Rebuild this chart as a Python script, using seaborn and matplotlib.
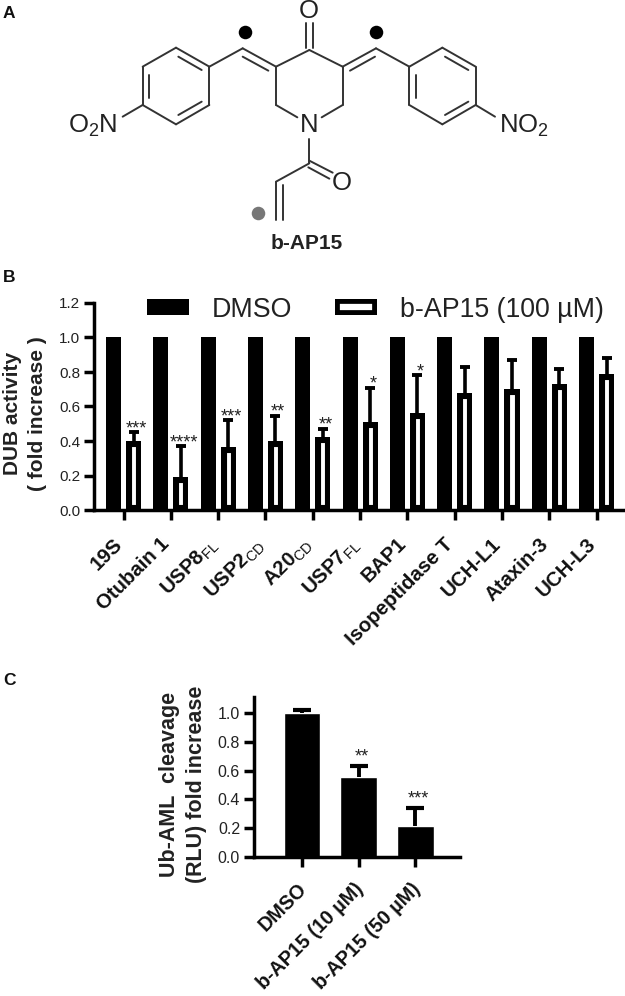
import matplotlib
matplotlib.use("Agg")
import matplotlib.pyplot as plt
from matplotlib.transforms import ScaledTranslation
import pandas as pd
import seaborn as sns

W, H = 625, 996

# panel B
targets = ["19S", "Otubain 1", "USP8$_{\\mathrm{FL}}$", "USP2$_{\\mathrm{CD}}$", "A20$_{\\mathrm{CD}}$",
           "USP7$_{\\mathrm{FL}}$", "BAP1", "Isopeptidase T", "UCH-L1", "Ataxin-3", "UCH-L3"]
dmso_activity = [1.0] * 11
bap15_activity = [0.40, 0.19, 0.365, 0.40, 0.425, 0.51, 0.56, 0.68, 0.70, 0.73, 0.79]
bap15_err_top = [0.45, 0.37, 0.52, 0.545, 0.47, 0.71, 0.78, 0.83, 0.87, 0.82, 0.88]
bap15_stars = ["***", "****", "***", "**", "**", "*", "*", "", "", "", ""]

# panel C
treatments = ["DMSO", "b-AP15 (10 µM)", "b-AP15 (50 µM)"]
cleavage = [1.0, 0.555, 0.215]
cleavage_err_top = [1.023, 0.628, 0.337]
cleavage_stars = ["", "**", "***"]

sns.set_theme(style="ticks")
plt.rcParams["font.family"] = ["Liberation Sans", "DejaVu Sans"]
plt.rcParams["mathtext.fontset"] = "custom"
plt.rcParams["mathtext.rm"] = "Liberation Sans"
plt.rcParams["mathtext.default"] = "regular"

fig = plt.figure(figsize=(W / 100, H / 100), dpi=100)


def px_axes(left, right, top, bottom):
    return fig.add_axes([left / W, 1 - bottom / H, (right - left) / W, (bottom - top) / H])


def style_axis(ax, size):
    sns.despine(ax=ax)
    for side in ("left", "bottom"):
        ax.spines[side].set_linewidth(2.5)
        ax.spines[side].set_color("black")
    ax.tick_params(axis="both", width=2.5, length=7, color="black")
    ax.tick_params(axis="y", labelsize=size, labelcolor="#222222", pad=3)
    ax.set_xlabel("")


def slant_labels(ax, size, pad, shift_px):
    ax.tick_params(axis="x", labelsize=size, pad=pad, labelcolor="#111111")
    offset = ScaledTranslation(shift_px / 100, 0, fig.dpi_scale_trans)
    for label in ax.get_xticklabels():
        label.set(rotation=45, ha="right", rotation_mode="anchor", fontweight="bold")
        label.set_transform(label.get_transform() + offset)


def inner_stroke(patch, width):
    # stroke stays inside the bar outline, as in the original
    patch.set(edgecolor="black", linewidth=width)
    patch.set_clip_path(patch)


def upper_errors(ax, xs, values, tops, **kws):
    bars = ax.errorbar(xs, values, yerr=[[0] * len(values), [t - v for t, v in zip(tops, values)]],
                       fmt="none", ecolor="black", **kws)
    bars.lines[1][0].remove()  # only the upper cap is drawn


# A: structure, drawn in the units of a 3x crop of the top 260 px
ax_a = px_axes(0, W, 0, 260)
ax_a.set_xlim(-150, 1725)
ax_a.set_ylim(780, 0)
ax_a.axis("off")
bonds = [
    # left ring
    (378, 143, 478, 200), (478, 200, 478, 315), (478, 315, 378, 373), (378, 373, 278, 315),
    (278, 315, 278, 200), (278, 200, 378, 143), (385, 170, 455, 210), (298, 225, 298, 295),
    (385, 345, 455, 305),
    # left linker
    (478, 200, 578, 145), (578, 145, 678, 200), (578, 170, 655, 212),
    # piperidone
    (678, 200, 778, 150), (778, 150, 878, 200), (878, 200, 878, 315), (878, 315, 815, 352),
    (678, 200, 678, 315), (678, 315, 742, 352), (768, 70, 768, 145), (788, 70, 788, 145),
    # right linker
    (878, 200, 978, 145), (900, 212, 975, 170), (978, 145, 1078, 200),
    # right ring
    (1078, 200, 1177, 143), (1177, 143, 1277, 200), (1277, 200, 1277, 315), (1277, 315, 1177, 373),
    (1177, 373, 1078, 315), (1078, 315, 1078, 200), (1098, 225, 1098, 295), (1185, 170, 1255, 210),
    (1185, 345, 1255, 305),
    # acryloyl
    (778, 418, 778, 490), (778, 482, 848, 518), (775, 502, 838, 536), (778, 490, 678, 545),
    (678, 545, 678, 660), (698, 555, 698, 660),
    # nitro
    (278, 315, 218, 350), (1277, 315, 1335, 350),
]
for x0, y0, x1, y1 in bonds:
    ax_a.plot([x0, x1], [y0, y1], color="#333333", lw=1.4, solid_capstyle="round")
atoms = [(775, 34, "O"), (778, 375, "N"), (875, 548, "O"), (128, 378, "O$_{\\mathrm{2}}$N"), (1423, 378, "NO$_{\\mathrm{2}}$")]
for x, y, label in atoms:
    ax_a.text(x, y, label, ha="center", va="center", fontsize=18.5, color="#222222")
ax_a.scatter([585, 977], [95, 95], s=95, color="black", linewidths=0)
ax_a.scatter([625], [640], s=95, color="#777777", linewidths=0)
ax_a.text(770, 730, "b-AP15", ha="center", va="center", fontsize=15, fontweight="bold", color="#222222")

# B
df_b = pd.DataFrame({"target": targets * 2,
                     "activity": dmso_activity + bap15_activity,
                     "group": ["DMSO"] * 11 + ["b-AP15 (100 µM)"] * 11})
ax_b = px_axes(94, 625, 303, 510)
sns.barplot(df_b, x="target", y="activity", hue="group", ax=ax_b, width=0.846, gap=0.25,
            palette={"DMSO": "black", "b-AP15 (100 µM)": "white"},
            linewidth=0, saturation=1, errorbar=None)
for patch in ax_b.containers[1]:
    inner_stroke(patch, 8)
ax_b.set_xlim(-0.624, 10.6)
ax_b.set_ylim(0, 1.2)
ax_b.set_yticks([0, 0.2, 0.4, 0.6, 0.8, 1.0, 1.2])
style_axis(ax_b, 11)
white_x = [p.get_x() + p.get_width() / 2 for p in ax_b.containers[1]]
upper_errors(ax_b, white_x, bap15_activity, bap15_err_top, elinewidth=2.6, capsize=3.5, capthick=2.8)
for x, top, stars in zip(white_x, bap15_err_top, bap15_stars):
    ax_b.annotate(stars, (x, top), xytext=(2, -3.5), textcoords="offset points", ha="center",
                  va="bottom", fontsize=13, color="#222222")
slant_labels(ax_b, 14.7, 10.5, -11)
ax_b.set_ylabel("DUB activity\n( fold increase )", fontsize=15, fontweight="bold", linespacing=1.4, color="#222222")
ax_b.yaxis.set_label_coords(-0.0885, 0.466)
handles, labels = ax_b.get_legend_handles_labels()
legend = ax_b.legend(handles, labels, ncol=2, frameon=False, fontsize=19.3, loc="upper left",
                     bbox_to_anchor=(0.1, 1.03), handlelength=1.56, handleheight=0.52,
                     columnspacing=1.6, handletextpad=0.86, borderpad=0, borderaxespad=0,
                     labelcolor="#222222")
inner_stroke(legend.get_patches()[1], 7)

# C
ax_c = px_axes(254, 460, 697, 857)
sns.barplot(x=treatments, y=cleavage, ax=ax_c, color="black", saturation=1, width=0.65, errorbar=None)
ax_c.set_xlim(-0.847, 2.787)
ax_c.set_ylim(0, 1.11)
ax_c.set_yticks([0, 0.2, 0.4, 0.6, 0.8, 1.0])
style_axis(ax_c, 11.5)
upper_errors(ax_c, list(range(3)), cleavage, cleavage_err_top, elinewidth=2.8, capsize=6.5, capthick=3)
for x, top, stars in zip(range(3), cleavage_err_top, cleavage_stars):
    ax_c.annotate(stars, (x, top), xytext=(2, 1), textcoords="offset points", ha="center",
                  va="bottom", fontsize=13, color="#222222")
slant_labels(ax_c, 14.2, 9, -5)
ax_c.set_ylabel("Ub-AML  cleavage\n(RLU) fold increase", fontsize=15.5, fontweight="bold", linespacing=1.4, color="#222222")
ax_c.yaxis.set_label_coords(-0.228, 0.456)

for letter, y in (("A", 14), ("B", 278), ("C", 680)):
    fig.text(3 / W, 1 - y / H, letter, fontsize=12.5, fontweight="bold", va="center", color="#111111")

fig.savefig("out.png", dpi=100)
